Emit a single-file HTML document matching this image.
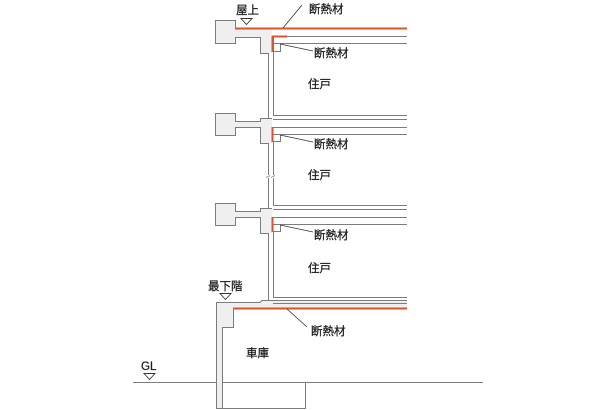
<!DOCTYPE html>
<html><head><meta charset="utf-8"><style>
html,body{margin:0;padding:0;background:#fff;}
svg{display:block;}
text{font-family:"Liberation Sans","Noto Sans CJK JP",sans-serif;font-size:11.5px;fill:#1a1a1a;stroke:#1a1a1a;stroke-width:0.25;}
</style></head><body>
<svg width="614" height="410" viewBox="0 0 614 410" xmlns="http://www.w3.org/2000/svg">
<rect width="614" height="410" fill="#fff"/>
<g fill="#efefef" stroke="none">
<path d="M215,20H235V28H272V53H260V37H235V43H215Z"/>
<path d="M215,113H235V121H260V118H272V143H260V127H235V135H215Z"/>
<path d="M215,203H235V211H260V208H272V233H260V217H235V225H215Z"/>
<path d="M216,302H260L262,300H407V308H233V327H222V408H216Z"/>
</g>
<g fill="none" stroke="#7c7c7c" stroke-width="1">
<path d="M235.5,28V20.5H215.5V43.5H235.5V37.5H260.5V53.5H268"/>
<path d="M273,36.5H407"/>
<path d="M273,43.5H407"/>
<path d="M273.5,51.5H280.5V43.5"/>
<path d="M268.5,53V118"/>
<path d="M273.5,36V115"/>
<path d="M272,118.5H260.5V121.5H235.5V113.5H215.5V135.5H235.5V127.5H260.5V143.5H268"/>
<path d="M273,115.5H407M273,119.5H407M273,127.5H407M273,134.5H407"/>
<path d="M273.5,141.5H280.5V134.5"/>
<path d="M268.5,143V208"/>
<path d="M273.5,141V205"/>
<path d="M272,208.5H260.5V211.5H235.5V203.5H215.5V225.5H235.5V217.5H260.5V233.5H268"/>
<path d="M273,205.5H407M273,209.5H407M273,217.5H407M273,224.5H407"/>
<path d="M273.5,231.5H280.5V224.5"/>
<path d="M268.5,233V300"/>
<path d="M273.5,231V297"/>
<path d="M216.5,302.5H260L262,300.5H268.5"/>
<path d="M273,297.5H407M268,300.5H407M273,303.5H407"/>
<path d="M233.5,309V327.5H222.5V408"/>
<path d="M216.5,302V408.5H305.5V382.5H222"/>
<path d="M133,382.5H216"/>
<path d="M305,382.5H483"/>
</g>
<rect x="266" y="175" width="9" height="3" fill="#fff"/>
<path d="M266,177.5L270,175.5M271,177.5L275,175.5" stroke="#888" stroke-width="0.8" fill="none"/>
<g stroke="#d9532b" stroke-width="2" fill="none">
<path d="M235,28.5H407"/>
<path d="M272,36.5H287"/>
<path d="M272.5,36V52"/>
<path d="M272.5,127V142"/>
<path d="M272.5,217V232"/>
<path d="M233,308.5H407"/>
</g>
<g stroke="#333" stroke-width="0.8" fill="none">
<path d="M283,28L302,5"/>
<path d="M280,44L313,51"/>
<path d="M280,135L313,142"/>
<path d="M280,225L313,232"/>
<path d="M287,309L307,327"/>
</g>
<g stroke="#333" stroke-width="0.9" fill="#fff">
<path d="M241,18.5H252L246.5,24.5Z"/>
<path d="M220,293.5H231L225.5,299.5Z"/>
<path d="M144,373.5H155L149.5,379.5Z"/>
</g>
<text x="236" y="14">屋上</text>
<text x="309" y="13">断熱材</text>
<text x="314" y="57">断熱材</text>
<text x="308" y="88">住戸</text>
<text x="314" y="148">断熱材</text>
<text x="308" y="179">住戸</text>
<text x="314" y="239">断熱材</text>
<text x="308" y="272">住戸</text>
<text x="208" y="290">最下階</text>
<text x="311" y="335">断熱材</text>
<text x="246" y="357">車庫</text>
<text x="141" y="370">GL</text>
</svg>
</body></html>
